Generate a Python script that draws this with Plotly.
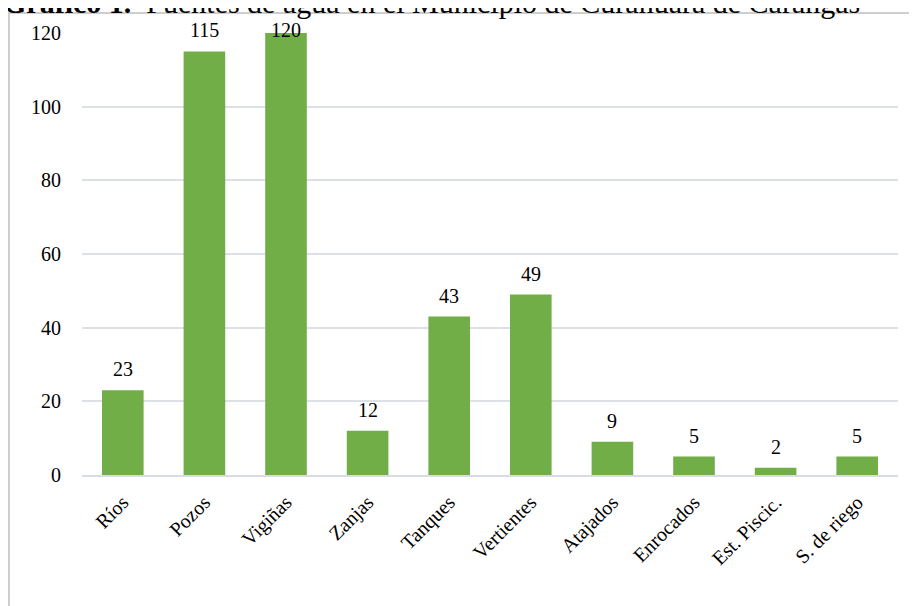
import plotly.graph_objects as go

# Fuentes de agua
categorias = ['Ríos', 'Pozos', 'Vigiñas', 'Zanjas', 'Tanques', 'Vertientes',
              'Atajados', 'Enrocados', 'Est. Piscic.', 'S. de riego']
cantidades = [23, 115, 120, 12, 43, 49, 9, 5, 2, 5]
y_ticks = [0, 20, 40, 60, 80, 100, 120]

FONT = 'Liberation Serif, Times New Roman, serif'

fig = go.Figure(go.Bar(x=categorias, y=cantidades,
                       marker={'color': '#72AE47', 'line': {'width': 0}},
                       showlegend=False))

# etiquetas de datos encima de cada barra
# (como en Excel, la etiqueta no sube mas alla del borde superior del area)
for cat, val in zip(categorias, cantidades):
    fig.add_annotation(x=cat, y=min(val, 115), text=str(val), showarrow=False,
                       yanchor='bottom', yshift=8,
                       font={'family': FONT, 'size': 20, 'color': 'black'})

# la pagina tiene 8px de margen en el body: se compensa en los margenes
fig.update_layout(width=917, height=606,
                  margin={'l': 74, 'r': 27, 't': 25, 'b': 139},
                  plot_bgcolor='white', paper_bgcolor='white',
                  bargap=0.49,
                  font={'family': FONT, 'color': 'black'},
                  xaxis={'tickangle': -45, 'tickfont': {'size': 20},
                         'showline': True, 'linecolor': '#D9DCE3', 'linewidth': 1.5,
                         'ticks': '', 'showgrid': False, 'ticklabelstandoff': 6},
                  yaxis={'range': [0, 120], 'tickvals': y_ticks,
                         'tickfont': {'size': 20}, 'showgrid': True,
                         'gridcolor': '#DDE0E6', 'gridwidth': 1.5,
                         'zeroline': False, 'ticks': '', 'ticklabelstandoff': 20})

# marco del grafico
fig.add_shape(type='rect', xref='paper', yref='paper',
              x0=-0.0895, x1=1.022, y0=-0.32, y1=1.0452,
              line={'color': '#BFBFBF', 'width': 1.5}, layer='below')

# titulo (cortado en la parte superior)
fig.add_annotation(xref='paper', yref='paper', x=-0.0995, y=1.068,
                   xanchor='left', yanchor='middle', showarrow=False,
                   text='<b>Gráfico 1.</b>  Fuentes de agua en el Municipio de Curahuara de Carangas',
                   font={'family': FONT, 'size': 30, 'color': 'black'})

fig.write_html('out.html')
